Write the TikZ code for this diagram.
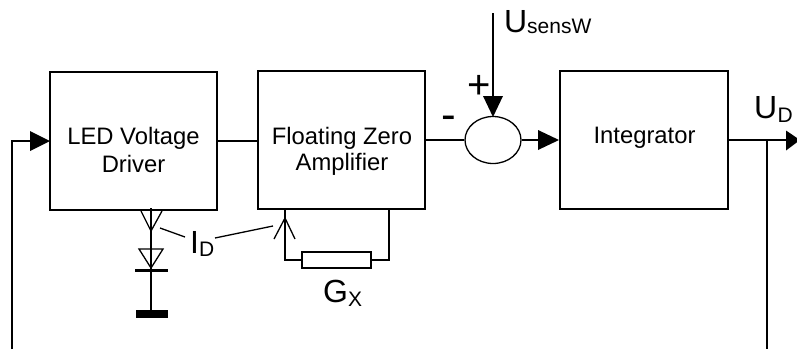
\documentclass[tikz,border=0pt]{standalone}
\usepackage{fontspec}
\setmainfont{Liberation Sans}
\usetikzlibrary{shapes.geometric}
\tikzset{
  blockbox/.style={draw,line width=1.3pt,inner sep=0pt},
  blocktext/.style={inner sep=0pt,anchor=base,font=\fontsize{23.8}{27}\selectfont},
  wire/.style={line width=1.3pt},
  solidhead/.style={fill=black,draw=none},
  lbl/.style={inner sep=0pt,anchor=base west,font=\fontsize{32}{32}\selectfont},
  sublbl/.style={inner sep=0pt,anchor=base west,font=\fontsize{21}{21}\selectfont}
}
\begin{document}
\begin{tikzpicture}[x=1pt,y=-1pt]
\useasboundingbox (0,0) rectangle (797,349);
\node[blockbox,minimum width=167pt,minimum height=138pt] (led) at (133.5,141) {};
\node[blockbox,minimum width=167pt,minimum height=138pt] (amp) at (341.5,140) {};
\node[blockbox,minimum width=168pt,minimum height=138pt] (int) at (644,140) {};
\node[blocktext] (ledt1) at (133.5,144) {LED Voltage};
\node[blocktext] (ledt2) at (133.5,172) {Driver};
\node[blocktext] (ampt1) at (342,144) {Floating Zero};
\node[blocktext] (ampt2) at (342,170) {Amplifier};
\node[blocktext] (intt) at (644.5,143) {Integrator};
\node[draw,ellipse,line width=1.3pt,minimum width=56pt,minimum height=47pt,inner sep=0pt] (sum) at (493,140) {};
\coordinate (fbl) at (12,349);
\coordinate (fblt) at (12,141);
\coordinate (fbr) at (767,349);
\coordinate (fbrt) at (767,140);
\coordinate (outend) at (797,140);
\coordinate (intout) at (728,140);
\coordinate (usens) at (493,13);
\draw[wire] (fbl) -- (fblt) -- (32,141);
\fill[solidhead] (50,141) -- (30,131) -- (30,151) -- cycle;
\draw[wire] (217,141) -- (258,141);
\draw[wire] (425,140) -- (sum.west);
\draw[wire] (sum.east) -- (542,140);
\fill[solidhead] (559,140) -- (538,130) -- (538,150) -- cycle;
\draw[wire] (usens) -- (493,100);
\fill[solidhead] (493,117) -- (483,96) -- (503,96) -- cycle;
\draw[wire] (intout) -- (outend);
\fill[solidhead] (800,140) -- (786,130.5) -- (786,150.5) -- cycle;
\draw[wire] (fbrt) -- (fbr);
% LED branch
\coordinate (gnd) at (151,312);
\draw[wire] (151,208) -- (gnd);
\draw[wire] (141,211) -- (151,231) -- (162,211);
\draw[wire,line join=miter] (139,249) -- (163,249) -- (151,268) -- cycle;
\fill (135,268.5) rectangle (168,272);
\fill (136,310) rectangle (168,317.5);
% resistor branch
\node[draw,line width=1.3pt,fill=white,minimum width=69pt,minimum height=16pt,inner sep=0pt] (gx) at (336.5,260) {};
\draw[wire] (285,209) |- (gx.west);
\draw[wire] (gx.east) -| (389,209);
\draw[wire] (274,239) -- (285,218) -- (295,239);
% leaders
\node[lbl] (id) at (190,253) {I};
\node[sublbl] (idsub) at (199,256) {D};
\draw[wire] (160,228) -- (185,237);
\draw[wire] (215,238) -- (273,226);
\node[lbl] (gxl) at (323,302) {G};
\node[sublbl] (gxs) at (348,306) {X};
\node[lbl] (ul) at (504,32) {U};
\node[sublbl] (uls) at (527,33) {sensW};
\node[lbl] (ud) at (754,118) {U};
\node[sublbl] (uds) at (777.5,122) {D};
\node[inner sep=0pt,font=\fontsize{40}{40}\selectfont] (plus) at (479,87) {+};
\node[inner sep=0pt,font=\fontsize{44}{44}\selectfont] (minus) at (449,123) {-};
\end{tikzpicture}
\end{document}
